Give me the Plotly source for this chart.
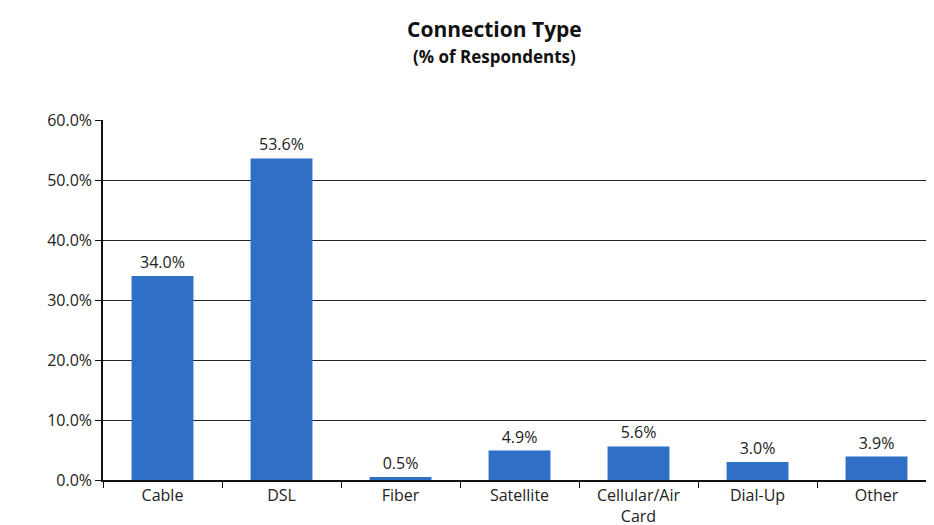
import plotly.graph_objects as go

categories = ["Cable", "DSL", "Fiber", "Satellite", "Cellular/Air<br>Card", "Dial-Up", "Other"]
values = [34.0, 53.6, 0.5, 4.9, 5.6, 3.0, 3.9]
labels = ["34.0%", "53.6%", "0.5%", "4.9%", "5.6%", "3.0%", "3.9%"]
tick_vals = [0, 10, 20, 30, 40, 50, 60]
tick_text = ["0.0%", "10.0%", "20.0%", "30.0%", "40.0%", "50.0%", "60.0%"]

font = "Open Sans, Liberation Sans, sans-serif"

fig = go.Figure(go.Bar(
    x=categories, y=values,
    marker=dict(color="#2f6fc6", line=dict(width=0)),
    text=labels, textposition="outside", cliponaxis=False,
    textfont=dict(family=font, size=16, color="#222"),
))

fig.update_layout(
    width=934, height=525,
    paper_bgcolor="white", plot_bgcolor="white",
    margin=dict(l=95, r=6, t=112, b=46),
    bargap=0.48,
    showlegend=False,
    annotations=[
        dict(text="<b>Connection Type</b>", xref="paper", yref="paper",
             x=0.47, y=1.252, xanchor="center", yanchor="middle", showarrow=False,
             font=dict(family=font, size=21, color="#111")),
        dict(text="<b>(% of Respondents)</b>", xref="paper", yref="paper",
             x=0.47, y=1.177, xanchor="center", yanchor="middle", showarrow=False,
             font=dict(family=font, size=17, color="#111")),
    ],
    xaxis=dict(
        showline=True, linecolor="#111", linewidth=1.5,
        ticks="outside", tickson="boundaries", ticklen=6, tickcolor="#111",
        tickfont=dict(family=font, size=16, color="#222"),
        showgrid=False,
    ),
    yaxis=dict(
        range=[0, 60], tickvals=tick_vals, ticktext=tick_text,
        showline=True, linecolor="#111", linewidth=1.5,
        ticks="outside", ticklen=6, tickcolor="#111",
        showgrid=True, gridcolor="#222", gridwidth=1.2,
        tickfont=dict(family=font, size=16, color="#222"),
        zeroline=False,
    ),
)

fig.write_html("out.html")
